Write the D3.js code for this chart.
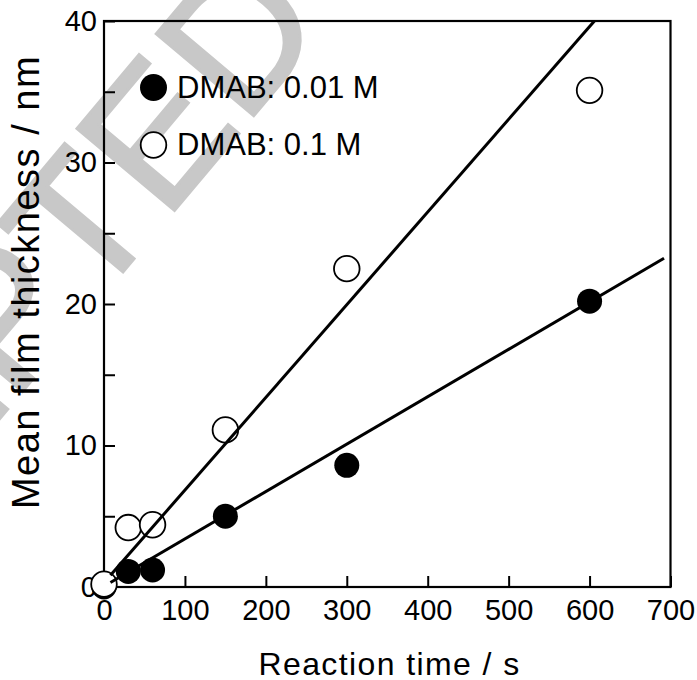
<!DOCTYPE html>
<html>
  <head>
    <meta charset="utf-8">
    <script src="https://d3js.org/d3.v7.min.js"></script>
    <title>Mean film thickness vs reaction time</title>
    <style>
      body {
        margin: 0;
        background: #fff;
      }
      svg text {
        font-family: "Liberation Sans", Arial, Helvetica, sans-serif;
        fill: #000;
      }
      .tick text {
        font-size: 29px;
      }
      .axis-label {
        font-size: 32px;
      }
      .legend-text {
        font-size: 31px;
      }
      .watermark {
        font-size: 185px;
        fill: #c8c8c8 !important;
        stroke: #c8c8c8;
        stroke-width: 3px;
      }
    </style>
  </head>
  <body>
    <svg width="697" height="680"></svg>
    <script>
      // data
      const times = [0, 30, 60, 150, 300, 600];
      const thickLow = [0, 1.1, 1.2, 5.0, 8.6, 20.2];    // DMAB 0.01 M
      const thickHigh = [0.2, 4.2, 4.4, 11.1, 22.5, 35.1]; // DMAB 0.1 M
      const seriesNames = ['DMAB: 0.01 M', 'DMAB: 0.1 M'];
      // linear fits: slope, intercept, start time, end time
      const fitSlope = [0.0335, 0.0655];
      const fitIntercept = [0.05, 0.3];
      const fitStart = [8, 8];
      const fitEnd = [692, 606];
      const xTicks = [0, 100, 200, 300, 400, 500, 600, 700];
      const yTicks = [0, 5, 10, 15, 20, 25, 30, 35, 40];

      const svg = d3.select('svg');
      const margin = {left: 104, right: 26.5, top: 21, bottom: 93};
      const width = +svg.attr('width');
      const height = +svg.attr('height');
      const innerWidth = width - margin.left - margin.right;
      const innerHeight = height - margin.top - margin.bottom;

      // watermark behind everything
      const wm = svg.append('g')
        .attr('transform', 'translate(330, 25) rotate(-50)');
      wm.append('text')
        .attr('class', 'watermark')
        .attr('text-anchor', 'end')
        .text('ACCEPTED');
      wm.append('text')
        .attr('class', 'watermark')
        .attr('x', 51)
        .text('MANUSCRIPT');

      const g = svg.append('g')
        .attr('transform', `translate(${margin.left}, ${margin.top})`);

      const xScale = d3.scaleLinear().domain([0, 700]).range([0, innerWidth]);
      const yScale = d3.scaleLinear().domain([0, 40]).range([innerHeight, 0]);

      const xAxis = d3.axisBottom(xScale)
        .tickValues(xTicks)
        .tickSizeInner(-11)
        .tickSizeOuter(0)
        .tickPadding(12);
      const yAxis = d3.axisLeft(yScale)
        .tickValues(yTicks)
        .tickFormat(d => d % 10 === 0 ? d : '')
        .tickSizeInner(-11)
        .tickSizeOuter(0)
        .tickPadding(7);

      const xAxisG = g.append('g')
        .attr('transform', `translate(0, ${innerHeight})`)
        .call(xAxis);
      const yAxisG = g.append('g').call(yAxis);
      [xAxisG, yAxisG].forEach(a => {
        a.select('.domain').remove();
        a.attr('font-family', null).attr('font-size', null);
        a.selectAll('.tick line').attr('stroke', '#000').attr('stroke-width', 2);
      });

      // frame
      g.append('rect')
        .attr('width', innerWidth)
        .attr('height', innerHeight)
        .attr('fill', 'none')
        .attr('stroke', '#000')
        .attr('stroke-width', 2.2);

      // markers
      const pts = (ys) => times.map((t, i) => ({t: t, y: ys[i]}));
      g.append('g').selectAll('circle').data(pts(thickLow))
        .enter().append('circle')
          .attr('cx', d => xScale(d.t))
          .attr('cy', d => yScale(d.y))
          .attr('r', 12.5)
          .attr('fill', '#000');
      g.append('g').selectAll('circle').data(pts(thickHigh))
        .enter().append('circle')
          .attr('cx', d => xScale(d.t))
          .attr('cy', d => yScale(d.y))
          .attr('r', 12.8)
          .attr('fill', '#fff')
          .attr('stroke', '#000')
          .attr('stroke-width', 1.8);

      // fit lines drawn over the markers
      const line = d3.line().x(d => xScale(d[0])).y(d => yScale(d[1]));
      fitSlope.forEach((s, i) => {
        const seg = [fitStart[i], fitEnd[i]].map(t => [t, fitIntercept[i] + s * t]);
        g.append('path')
          .attr('d', line(seg))
          .attr('fill', 'none')
          .attr('stroke', '#000')
          .attr('stroke-width', 3);
      });

      // legend
      const legend = svg.append('g');
      seriesNames.forEach((name, i) => {
        const cy = 87.5 + i * 57.5;
        legend.append('circle')
          .attr('cx', 153.5)
          .attr('cy', cy)
          .attr('r', i === 0 ? 13.5 : 12.8)
          .attr('fill', i === 0 ? '#000' : '#fff')
          .attr('stroke', '#000')
          .attr('stroke-width', i === 0 ? 0 : 1.8);
        legend.append('text')
          .attr('class', 'legend-text')
          .attr('x', 177)
          .attr('y', cy + 10)
          .text(name);
      });

      // axis titles
      svg.append('text')
        .attr('class', 'axis-label')
        .attr('x', 389.5)
        .attr('y', 675)
        .attr('text-anchor', 'middle')
        .style('letter-spacing', '1.4px')
        .text('Reaction time / s');
      svg.append('text')
        .attr('class', 'axis-label')
        .attr('transform', 'rotate(-90)')
        .attr('x', -282)
        .attr('y', 39)
        .attr('text-anchor', 'middle')
        .style('font-size', '38px')
        .style('letter-spacing', '1.5px')
        .text('Mean film thickness / nm');
    </script>
  </body>
</html>
